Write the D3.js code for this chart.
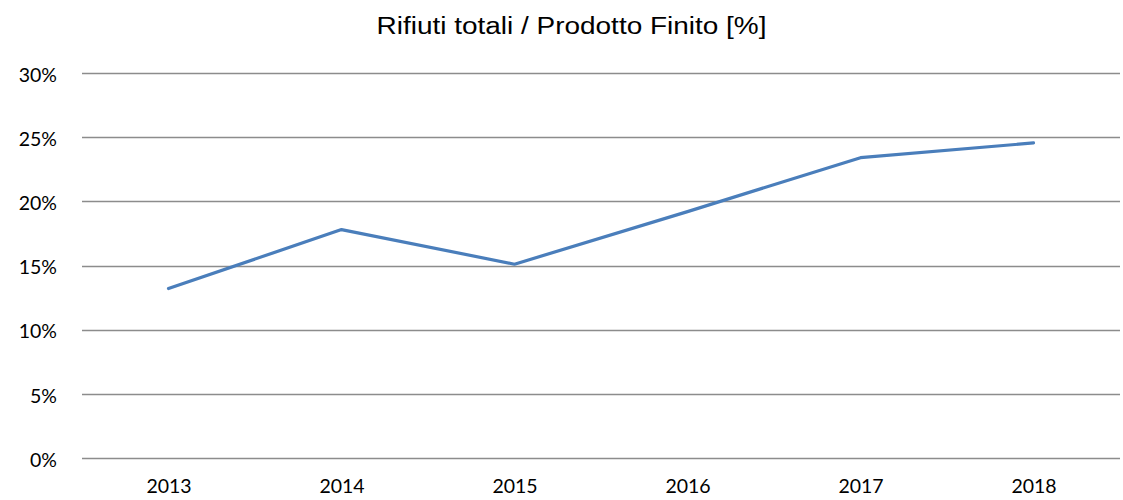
<!DOCTYPE html>
<html>
<head>
<meta charset="utf-8">
<script src="https://cdn.jsdelivr.net/npm/d3@7"></script>
<style>
  body { margin: 0; background: #fff; }
  svg { display: block; }
</style>
</head>
<body>
<svg id="chart" width="1123" height="500"></svg>
<script>
// chart values
const years = ['2013', '2014', '2015', '2016', '2017', '2018'];
const ratio = [13.2, 17.8, 15.1, 19.2, 23.4, 24.55];
const yTicks = [0, 5, 10, 15, 20, 25, 30];
const title = 'Rifiuti totali / Prodotto Finito [%]';

const svg = d3.select('#chart');
const margin = {top: 73, right: 3, bottom: 42, left: 82};
const width = 1123 - margin.left - margin.right;
const height = 500 - margin.top - margin.bottom;
const tickFont = 'Lato, "Noto Sans", sans-serif';

const x = d3.scalePoint().domain(years).range([0, width]).padding(0.5);
const y = d3.scaleLinear().domain([0, 30]).range([height, 0]);

const g = svg.append('g')
    .attr('transform', 'translate(' + margin.left + ',' + margin.top + ')');

// gridlines
g.append('g')
    .selectAll('line')
    .data(yTicks)
    .join('line')
    .attr('x1', 0)
    .attr('x2', width)
    .attr('y1', d => Math.round(y(d)) + 0.5)
    .attr('y2', d => Math.round(y(d)) + 0.5)
    .attr('stroke', '#8c8c8c')
    .attr('stroke-width', 1.3);

// y axis labels
const yAxis = g.append('g')
    .call(d3.axisLeft(y).tickValues(yTicks).tickFormat(d => d + '%').tickSize(0).tickPadding(25));
yAxis.select('.domain').remove();
yAxis.selectAll('text')
    .attr('dy', '0.42em')
    .style('font-family', tickFont)
    .style('font-size', '19.5px')
    .attr('fill', '#000');

// x axis labels
const xAxis = g.append('g')
    .attr('transform', 'translate(0,' + height + ')')
    .call(d3.axisBottom(x).tickSize(0).tickPadding(21));
xAxis.select('.domain').remove();
xAxis.selectAll('text')
    .style('font-family', tickFont)
    .style('font-size', '19.5px')
    .attr('fill', '#000');

// series line
const line = d3.line()
    .x((d, i) => x(years[i]))
    .y(d => y(d));

g.append('path')
    .datum(ratio)
    .attr('d', line)
    .attr('fill', 'none')
    .attr('stroke', '#4a7ebb')
    .attr('stroke-width', 3.2)
    .attr('stroke-linejoin', 'round')
    .attr('stroke-linecap', 'round');

// title (the original is set wide, so stretch it to its width)
svg.append('text')
    .attr('x', 571.5)
    .attr('y', 34)
    .attr('text-anchor', 'middle')
    .attr('textLength', 390)
    .attr('lengthAdjust', 'spacingAndGlyphs')
    .style('font-family', '"Liberation Sans", Arial, sans-serif')
    .style('font-size', '23px')
    .attr('fill', '#000')
    .text(title);
</script>
</body>
</html>
